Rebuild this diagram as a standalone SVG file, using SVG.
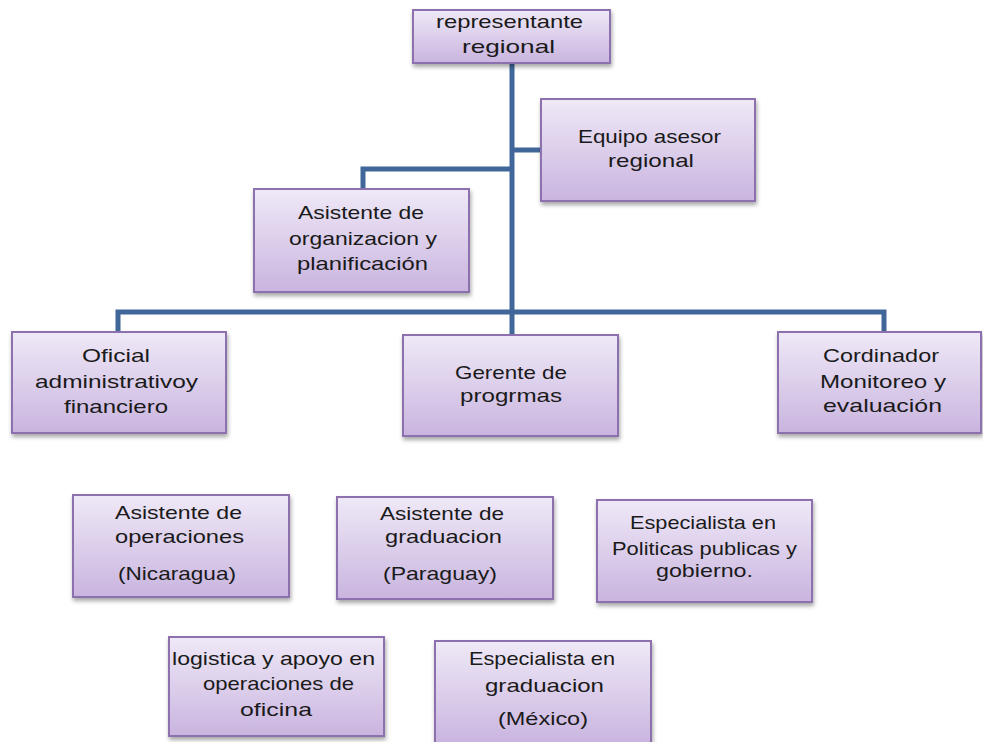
<svg xmlns="http://www.w3.org/2000/svg" width="983" height="742" viewBox="0 0 983 742">
<defs>
<linearGradient id="g" x1="0" y1="0" x2="0" y2="1">
<stop offset="0" stop-color="#efe9f7"/>
<stop offset="1" stop-color="#c9b4df"/>
</linearGradient>
<filter id="sh" x="-10%" y="-10%" width="120%" height="130%">
<feDropShadow dx="1" dy="3" stdDeviation="2" flood-color="#000" flood-opacity="0.35"/>
</filter>
</defs>
<style>
.box{fill:url(#g);stroke:#8d6fae;stroke-width:2;filter:url(#sh)}
text{font-family:"Liberation Sans",Arial,sans-serif;font-size:19px;fill:#1a1a1a}
.c{fill:none;stroke:#41679a;stroke-width:5}
</style>
<rect width="983" height="742" fill="#fff"/>
<g id="connectors">
<path class="c" d="M512 63 V336"/>
<path class="c" d="M512 150 H541"/>
<path class="c" d="M512 169 H363 V189"/>
<path class="c" d="M118 332 V312 H884 V332"/>
</g>
<g id="n1">
<rect class="box" x="413" y="10" width="197" height="53"/>
<text x="436" y="28" textLength="147" lengthAdjust="spacingAndGlyphs">representante</text>
<text x="462" y="53" textLength="93" lengthAdjust="spacingAndGlyphs">regional</text>
</g>
<g id="n2">
<rect class="box" x="541" y="99" width="214" height="102"/>
<text x="578" y="143" textLength="143" lengthAdjust="spacingAndGlyphs">Equipo asesor</text>
<text x="608" y="167" textLength="86" lengthAdjust="spacingAndGlyphs">regional</text>
</g>
<g id="n3">
<rect class="box" x="254" y="189" width="215" height="103"/>
<text x="298" y="219" textLength="126" lengthAdjust="spacingAndGlyphs">Asistente de</text>
<text x="289" y="245" textLength="148" lengthAdjust="spacingAndGlyphs">organizacion y</text>
<text x="297" y="270" textLength="131" lengthAdjust="spacingAndGlyphs">planificación</text>
</g>
<g id="n4">
<rect class="box" x="12" y="332" width="214" height="101"/>
<text x="82" y="362" textLength="68" lengthAdjust="spacingAndGlyphs">Oficial</text>
<text x="35" y="388" textLength="163" lengthAdjust="spacingAndGlyphs">administrativoy</text>
<text x="64" y="413" textLength="104" lengthAdjust="spacingAndGlyphs">financiero</text>
</g>
<g id="n5">
<rect class="box" x="403" y="335" width="215" height="101"/>
<text x="455" y="379" textLength="112" lengthAdjust="spacingAndGlyphs">Gerente de</text>
<text x="460" y="402" textLength="102" lengthAdjust="spacingAndGlyphs">progrmas</text>
</g>
<g id="n6">
<rect class="box" x="778" y="332" width="203" height="101"/>
<text x="823" y="362" textLength="116" lengthAdjust="spacingAndGlyphs">Cordinador</text>
<text x="820" y="388" textLength="126" lengthAdjust="spacingAndGlyphs">Monitoreo y</text>
<text x="823" y="412" textLength="119" lengthAdjust="spacingAndGlyphs">evaluación</text>
</g>
<g id="n7">
<rect class="box" x="73" y="495" width="216" height="102"/>
<text x="115" y="519" textLength="127" lengthAdjust="spacingAndGlyphs">Asistente de</text>
<text x="115" y="543" textLength="129" lengthAdjust="spacingAndGlyphs">operaciones</text>
<text x="118" y="580" textLength="118" lengthAdjust="spacingAndGlyphs">(Nicaragua)</text>
</g>
<g id="n8">
<rect class="box" x="337" y="497" width="216" height="102"/>
<text x="380" y="520" textLength="124" lengthAdjust="spacingAndGlyphs">Asistente de</text>
<text x="385" y="543" textLength="117" lengthAdjust="spacingAndGlyphs">graduacion</text>
<text x="383" y="580" textLength="114" lengthAdjust="spacingAndGlyphs">(Paraguay)</text>
</g>
<g id="n9">
<rect class="box" x="597" y="500" width="215" height="102"/>
<text x="630" y="529" textLength="146" lengthAdjust="spacingAndGlyphs">Especialista en</text>
<text x="612" y="555" textLength="185" lengthAdjust="spacingAndGlyphs">Politicas publicas y</text>
<text x="656" y="577" textLength="97" lengthAdjust="spacingAndGlyphs">gobierno.</text>
</g>
<g id="n10">
<rect class="box" x="169" y="637" width="215" height="99"/>
<text x="172" y="665" textLength="203" lengthAdjust="spacingAndGlyphs">logistica y apoyo en</text>
<text x="203" y="690" textLength="151" lengthAdjust="spacingAndGlyphs">operaciones de</text>
<text x="240" y="716" textLength="72" lengthAdjust="spacingAndGlyphs">oficina</text>
</g>
<g id="n11">
<rect class="box" x="435" y="641" width="216" height="104"/>
<text x="469" y="665" textLength="146" lengthAdjust="spacingAndGlyphs">Especialista en</text>
<text x="485" y="692" textLength="119" lengthAdjust="spacingAndGlyphs">graduacion</text>
<text x="498" y="725" textLength="90" lengthAdjust="spacingAndGlyphs">(México)</text>
</g>
</svg>
